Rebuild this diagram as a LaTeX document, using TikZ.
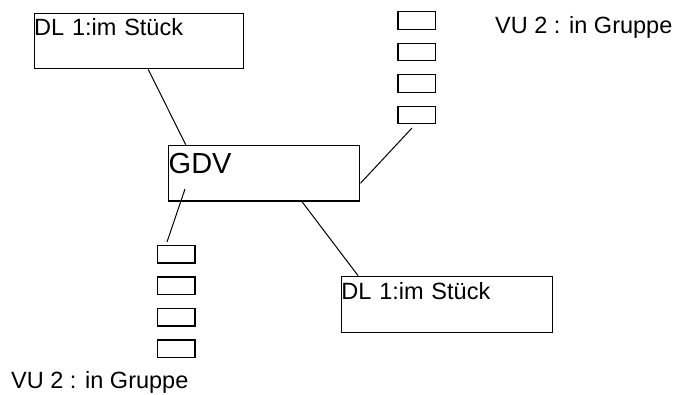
\documentclass[tikz,border=0pt]{standalone}
\usepackage{fontspec}
\setmainfont{Liberation Sans}
\usetikzlibrary{positioning}

\begin{document}
\begin{tikzpicture}[x=1pt, y=-1pt,
  bigbox/.style={draw, line width=1.4pt, inner sep=0pt, align=left, anchor=north west, font=\fontsize{23.5}{28}\selectfont},
  slot/.style={draw, line width=1.4pt, minimum width=37.5pt, minimum height=17.5pt, inner sep=0pt},
  vutext/.style={anchor=base west, inner sep=0pt, font=\fontsize{23.5}{28}\selectfont},
  link/.style={line width=1pt}]

\useasboundingbox (0,0) rectangle (675,394);

% the three boxes
\node[bigbox, text width=209.5pt, text height=22.5pt, text depth=33pt] (dl1) at (33.5,12.5) {DL 1:im Stück};
\node[bigbox, text width=191pt, text height=28.3pt, text depth=27.4pt, font=\fontsize{29}{34}\selectfont] (gdv) at (168,144.7) {GDV};
\node[bigbox, text width=211pt, text height=23.3pt, text depth=33pt] (dl2) at (340.7,275.7) {DL 1:im Stück};

% the two stacks of four
\foreach \i in {1,...,4} {
  \node[slot] (top\i) at (416.7, -11+31.5*\i) {};
  \node[slot] (low\i) at (176.3, 222.8+31.5*\i) {};
}

\node[vutext] (vutop) at (495,33) {VU 2 : in Gruppe};
\node[vutext] (vulow) at (11,388) {VU 2 : in Gruppe};

\coordinate (toptail) at (412,128);
\coordinate (lowroot) at (185,189);
\coordinate (lowtail) at (167,242);

\draw[link] (dl1.-72.6) -- (gdv.160);
\draw[link] (gdv.-37.2) -- (dl2.162.4);
\draw[link] (gdv.-6.6) -- (toptail);
\draw[link] (lowroot) -- (lowtail);

\end{tikzpicture}
\end{document}
